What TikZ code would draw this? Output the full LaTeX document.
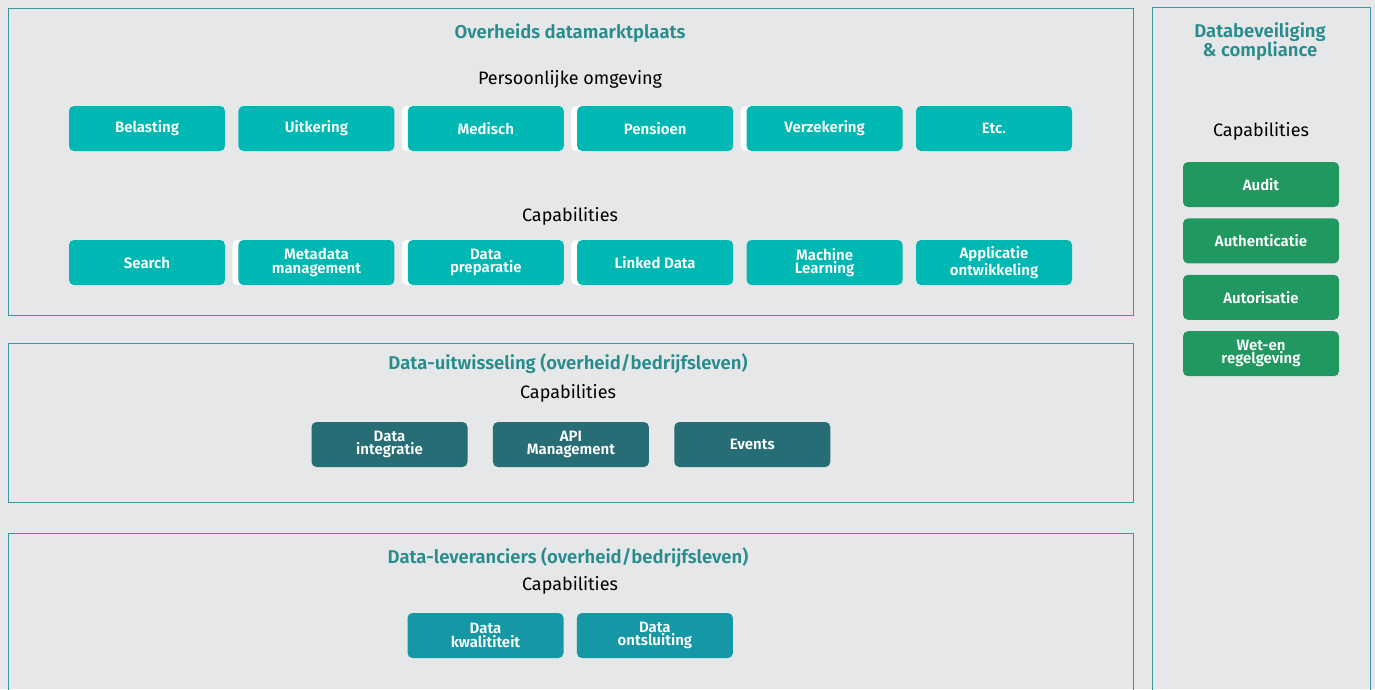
\documentclass[tikz,border=0pt]{standalone}
\usepackage{fontspec}
\setmainfont{Fira Sans}[BoldFont={Fira Sans SemiBold}]
\usepackage{tikz}
\usetikzlibrary{positioning, shadows}
\definecolor{pagegray}{RGB}{230, 231, 233}
\definecolor{frameteal}{RGB}{58, 152, 158}
\definecolor{titleteal}{RGB}{40, 140, 140}
\definecolor{brightteal}{RGB}{0, 184, 179}
\definecolor{darkteal}{RGB}{38, 109, 117}
\definecolor{midteal}{RGB}{21, 151, 165}
\definecolor{securegreen}{RGB}{33, 152, 96}

\begin{document}
\begin{tikzpicture}[
            x=1pt, y=-1pt,
            node distance=13pt and 13pt,
            frame/.style={draw=frameteal, line width=1pt},
            title/.style={text=titleteal, font=\bfseries\fontsize{18.5}{19}\selectfont, align=center},
            caption/.style={text=black, font=\fontsize{18}{20}\selectfont},
            capbox/.style={rounded corners=5pt, minimum width=156pt, minimum height=45pt, inner sep=1pt, align=center, text=white, font=\bfseries\fontsize{15}{13.5}\selectfont},
            tealbox/.style={capbox, fill=brightteal},
            lifted/.style={tealbox, double copy shadow={shadow xshift=-3pt, shadow yshift=0pt, fill=white, draw=none}},
            exchbox/.style={capbox, fill=darkteal},
            supplybox/.style={capbox, fill=midteal},
            securebox/.style={capbox, fill=securegreen}
        ]
            \useasboundingbox[fill=pagegray] (0,0) rectangle (1375,689);

            % panels
            \draw[frame] (8,8) rectangle (1133,315);
            \draw[frame] (8,343) rectangle (1133,502);
            \draw[frame] (8,533) rectangle (1133,700);
            \draw[frame] (1152,7) rectangle (1370,700);

            % Overheids datamarktplaats
            \node[title] (market) at (570,33) {Overheids datamarktplaats};
            \node[caption] (personal) at (570,79) {Persoonlijke omgeving};
            \node[tealbox] (tax) at (147,128.5) {Belasting};
            \node[tealbox, right=of tax] (benefit) {Uitkering};
            \node[lifted, right=of benefit] (medical) {Medisch};
            \node[lifted, right=of medical] (pension) {Pensioen};
            \node[lifted, right=of pension] (insurance) {Verzekering};
            \node[tealbox, right=of insurance] (etc) {Etc.};

            \node[caption] (marketcap) at (570,216) {Capabilities};
            \node[tealbox] (search) at (147,262.5) {Search};
            \node[lifted, right=of search] (metadata) {Metadata\\management};
            \node[lifted, right=of metadata] (prep) {Data\\preparatie};
            \node[lifted, right=of prep] (linked) {Linked Data};
            \node[tealbox, right=of linked] (ml) {Machine\\Learning};
            \node[tealbox, right=of ml] (appdev) {Applicatie\\ontwikkeling};

            % Data-uitwisseling
            \node[title] (exchange) at (568,364) {Data-uitwisseling (overheid/bedrijfsleven)};
            \node[caption] (exchangecap) at (568,393) {Capabilities};
            \node[exchbox] (integration) at (389.5,444.5) {Data\\integratie};
            \node[exchbox, right=25pt of integration] (apimgmt) {API\\Management};
            \node[exchbox, right=25pt of apimgmt] (events) {Events};

            % Data-leveranciers
            \node[title] (suppliers) at (568,558) {Data-leveranciers (overheid/bedrijfsleven)};
            \node[caption] (supplierscap) at (570,585) {Capabilities};
            \node[supplybox] (quality) at (485.5,635.5) {Data\\kwalititeit};
            \node[supplybox, right=of quality] (access) {Data\\ontsluiting};

            % Databeveiliging
            \node[title] (security) at (1260,41.5) {Databeveiliging\\\& compliance};
            \node[caption] (securitycap) at (1261,131) {Capabilities};
            \node[securebox] (audit) at (1261,184.5) {Audit};
            \node[securebox, below=11pt of audit] (authn) {Authenticatie};
            \node[securebox, below=11pt of authn] (authz) {Autorisatie};
            \node[securebox, below=11pt of authz] (law) {Wet-en\\regelgeving};
        \end{tikzpicture}
\end{document}
